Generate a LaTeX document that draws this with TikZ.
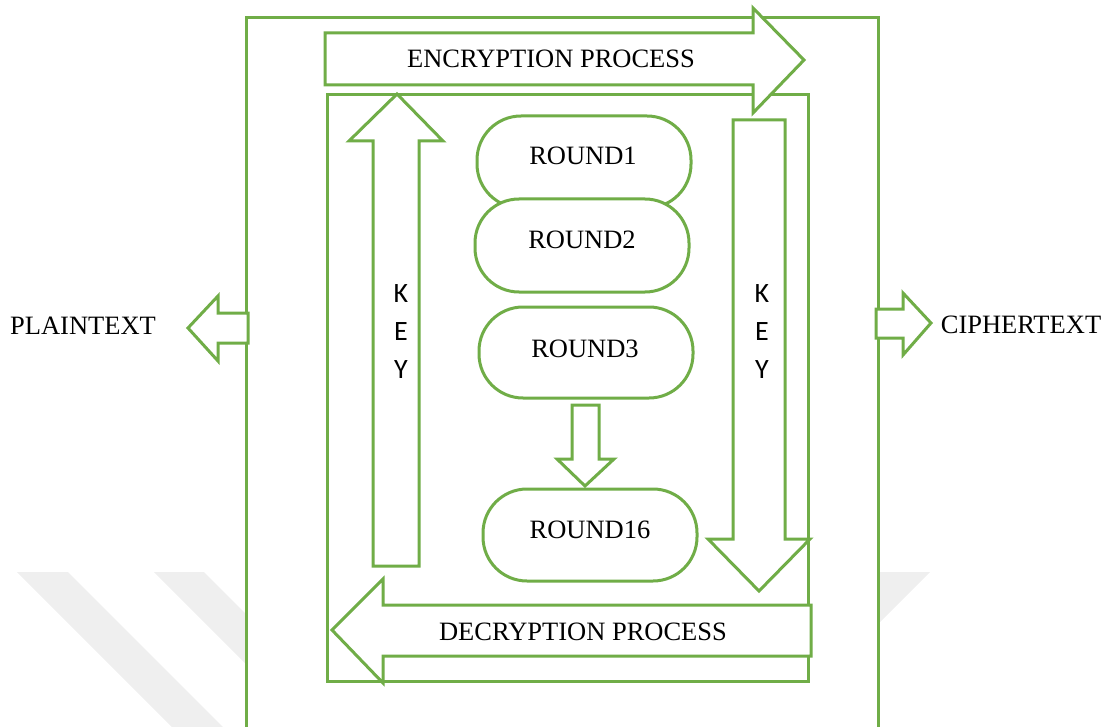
\documentclass[tikz,border=0pt]{standalone}
\usepackage{fontspec}
\setmainfont{Liberation Serif}
\newfontfamily\keyfont{Carlito}
\definecolor{leaf}{HTML}{70AD47}
\definecolor{markgray}{HTML}{EFEFEF}
\begin{document}
\begin{tikzpicture}[x=1pt,y=-1pt,
  outline/.style={draw=leaf,line width=3pt,line join=miter},
  blockarrow/.style={outline,fill=white},
  roundbox/.style={outline,fill=white,rounded corners=44pt},
  lbl/.style={font=\fontsize{26.5}{30}\selectfont,text=black,inner sep=0pt,anchor=base},
  keyletter/.style={font=\keyfont\fontsize{28}{30}\selectfont,text=black,inner sep=0pt,anchor=base}]
\useasboundingbox (0,0) rectangle (1110,727);

% faint background bands
\fill[markgray] (17,572) -- (68,572) -- (223,727) -- (172,727) -- cycle;
\fill[markgray] (154,572) -- (204,572) -- (359,727) -- (309,727) -- cycle;
\fill[markgray] (880,572) -- (930,572) -- (775,727) -- (725,727) -- cycle;

% outer frame, open at the bottom
\fill[white] (246,18) rectangle (878,735);
\draw[outline] (246,735) -- (246,18) -- (878,18) -- (878,735);

% output arrows on both sides
\draw[blockarrow] (248,313) -- (218,313) -- (218,296) -- (188,328) -- (218,361) -- (218,343) -- (248,343) -- cycle;
\draw[blockarrow] (876,309) -- (903,309) -- (903,293) -- (931,323) -- (903,355) -- (903,338) -- (876,338) -- cycle;

% inner frame
\draw[outline] (327,95) rectangle (808,681);

% encryption arrow (left to right)
\draw[blockarrow] (325,33) -- (753,33) -- (753,8) -- (804,60) -- (753,113) -- (753,85) -- (325,85) -- cycle;

% key arrows
\draw[blockarrow] (373,566) -- (373,141) -- (349,141) -- (397,94) -- (443,141) -- (419,141) -- (419,566) -- cycle;
\draw[blockarrow] (733,120) -- (785,120) -- (785,539) -- (810,539) -- (759,591) -- (708,539) -- (733,539) -- cycle;

% decryption arrow (right to left)
\draw[blockarrow] (811,605) -- (383,605) -- (383,579) -- (332,630) -- (383,683) -- (383,656) -- (811,656) -- cycle;

% rounds
\draw[roundbox] (477,116) rectangle (691,208);
\draw[roundbox] (475,199) rectangle (689,292);
\draw[roundbox] (479,307) rectangle (693,398);
\draw[roundbox] (483,489) rectangle (697,581);

% step arrow between the rounds
\draw[blockarrow] (572,405) -- (599,405) -- (599,459) -- (614,459) -- (585,486) -- (557,459) -- (572,459) -- cycle;

% labels
\node[lbl] (enc) at (551,68) {ENCRYPTION PROCESS};
\node[lbl] (dec) at (583,640) {DECRYPTION PROCESS};
\node[lbl] (plain) at (83,334) {PLAINTEXT};
\node[lbl] (cipher) at (1021,333) {CIPHERTEXT};
\node[lbl] (r1) at (583,165) {ROUND1};
\node[lbl] (r2) at (582,248) {ROUND2};
\node[lbl] (r3) at (585,357) {ROUND3};
\node[lbl] (r16) at (590,538) {ROUND16};

\node[keyletter] (lk) at (401,302) {K};
\node[keyletter] (le) at (401,340) {E};
\node[keyletter] (ly) at (401,378) {Y};
\node[keyletter] (rk) at (762,302) {K};
\node[keyletter] (re) at (762,340) {E};
\node[keyletter] (ry) at (762,378) {Y};
\end{tikzpicture}
\end{document}
